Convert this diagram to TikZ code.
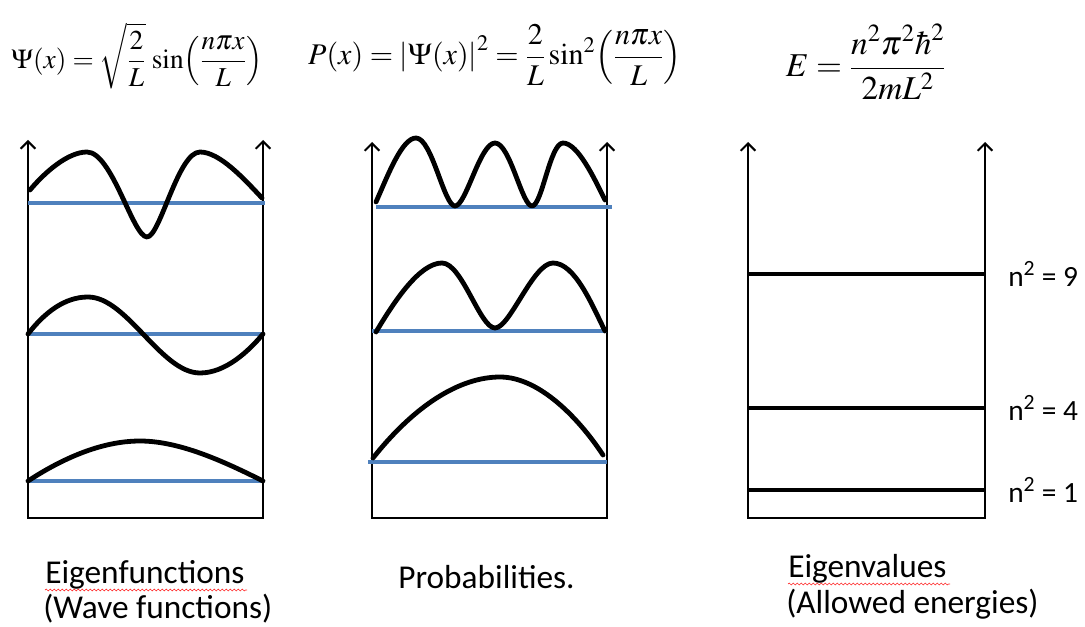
\documentclass[tikz,border=0pt]{standalone}
\usepackage{mathptmx}
\usepackage{fontspec}
\newfontfamily\calib{Carlito}
\usetikzlibrary{arrows.meta, positioning, decorations.pathmorphing}
\definecolor{levelblue}{HTML}{4F81BD}

\begin{document}
\begin{tikzpicture}[
  x=0.75pt, y=-0.75pt,
  axis/.style={line width=1.5pt,
    {Straight Barb[length=5.5pt,width=11pt]}-{Straight Barb[length=5.5pt,width=11pt]}},
  wave/.style={line width=3.6pt, line cap=round, line join=round},
  base/.style={levelblue, line width=2.3pt},
  level/.style={line width=3pt},
  lbl/.style={font=\calib\fontsize{22}{26}\selectfont, inner sep=0pt},
  capt/.style={lbl, font=\calib\fontsize{25}{30}\selectfont, anchor=base west},
  eqn/.style={font=\fontsize{20.5}{24}\selectfont, inner sep=0pt},
  spell/.style={red!80!white, line width=0.5pt, decorate,
    decoration={snake, amplitude=0.7pt, segment length=3pt}}
]
  \useasboundingbox (0,0) rectangle (1085,627);

  % equations
  \node[eqn] (psi) at (137,56)
    {$\displaystyle \Psi(x)=\sqrt{\frac{2}{L}}\,\sin\!\left(\frac{n\pi x}{L}\right)$};
  \node[eqn, font=\fontsize{22.5}{26}\selectfont] (prob) at (495,55)
    {$\displaystyle P(x)=\left|\Psi(x)\right|^2=\frac{2}{L}\sin^2\!\left(\frac{n\pi x}{L}\right)$};
  \node[eqn, font=\fontsize{25}{30}\selectfont] (energy) at (866,62)
    {$\displaystyle E=\frac{n^2\pi^2\hbar^2}{2mL^2}$};

  % panel 1: eigenfunctions
  \coordinate (a1) at (28,140);
  \coordinate (b1) at (28,518);
  \coordinate (c1) at (263,518);
  \coordinate (d1) at (263,140);
  \draw[axis] (a1) -- (b1) -- (c1) -- (d1);
  \draw[base] (28,481) -- (263,481);
  \draw[base] (28,334) -- (263,334);
  \draw[base] (28,203) -- (265,203);
  \draw[wave] (28,481) .. controls (60,460) and (100,441) .. (140,441)
    .. controls (180,441) and (225,462) .. (263,481);
  \draw[wave] (28,334) .. controls (45,312) and (65,297) .. (88,297)
    .. controls (127,297) and (161,373) .. (200,373)
    .. controls (225,373) and (248,352) .. (263,334);
  \draw[wave] (30,190) .. controls (45,172) and (68,152) .. (87,152)
    .. controls (112,152) and (133,237) .. (147,237)
    .. controls (160,237) and (178,152) .. (200,152)
    .. controls (220,152) and (245,180) .. (262,198);

  % panel 2: probabilities
  \coordinate (a2) at (372,142);
  \coordinate (b2) at (372,518);
  \coordinate (c2) at (607,518);
  \coordinate (d2) at (607,142);
  \draw[axis] (a2) -- (b2) -- (c2) -- (d2);
  \draw[base] (368,462) -- (607,462);
  \draw[base] (372,331) -- (607,331);
  \draw[base] (376,207) -- (612,207);
  \draw[wave] (373,458) .. controls (415,405) and (460,377) .. (500,377)
    .. controls (540,377) and (580,420) .. (603,455);
  \draw[wave] (376,332) .. controls (395,300) and (420,263) .. (442,263)
    .. controls (462,263) and (480,328) .. (495,328)
    .. controls (510,328) and (533,263) .. (553,263)
    .. controls (575,263) and (592,305) .. (605,331);
  \draw[wave] (376,202) .. controls (388,175) and (402,138) .. (416,138)
    .. controls (432,138) and (444,206) .. (455,206)
    .. controls (466,206) and (480,143) .. (495,143)
    .. controls (510,143) and (522,206) .. (532,206)
    .. controls (542,206) and (550,143) .. (563,143)
    .. controls (578,143) and (595,180) .. (605,200);

  % panel 3: eigenvalues
  \coordinate (a3) at (748,142);
  \coordinate (b3) at (748,518);
  \coordinate (c3) at (985,518);
  \coordinate (d3) at (985,142);
  \draw[axis] (a3) -- (b3) -- (c3) -- (d3);
  \draw[level] (748,274) -- (985,274);
  \draw[level] (748,408) -- (985,408);
  \draw[level] (748,490) -- (985,490);
  \node[lbl, anchor=west] (n9) at (1008,274) {n\textsuperscript{2} = 9};
  \node[lbl, anchor=west] (n4) at (1008,408) {n\textsuperscript{2} = 4};
  \node[lbl, anchor=west] (n1) at (1008,490) {n\textsuperscript{2} = 1};

  % captions
  \node[capt] (efun) at (45,583) {Eigenfunctions};
  \node[capt] (wfun) at (43,618) {(Wave functions)};
  \node[capt] (probs) at (398,588) {Probabilities.};
  \node[capt] (evals) at (788,577) {Eigenvalues};
  \node[capt] (allow) at (786,613) {(Allowed energies)};
  \draw[spell] (45,590) -- (247,590);
  \draw[spell] (788,584) -- (950,584);
\end{tikzpicture}
\end{document}
